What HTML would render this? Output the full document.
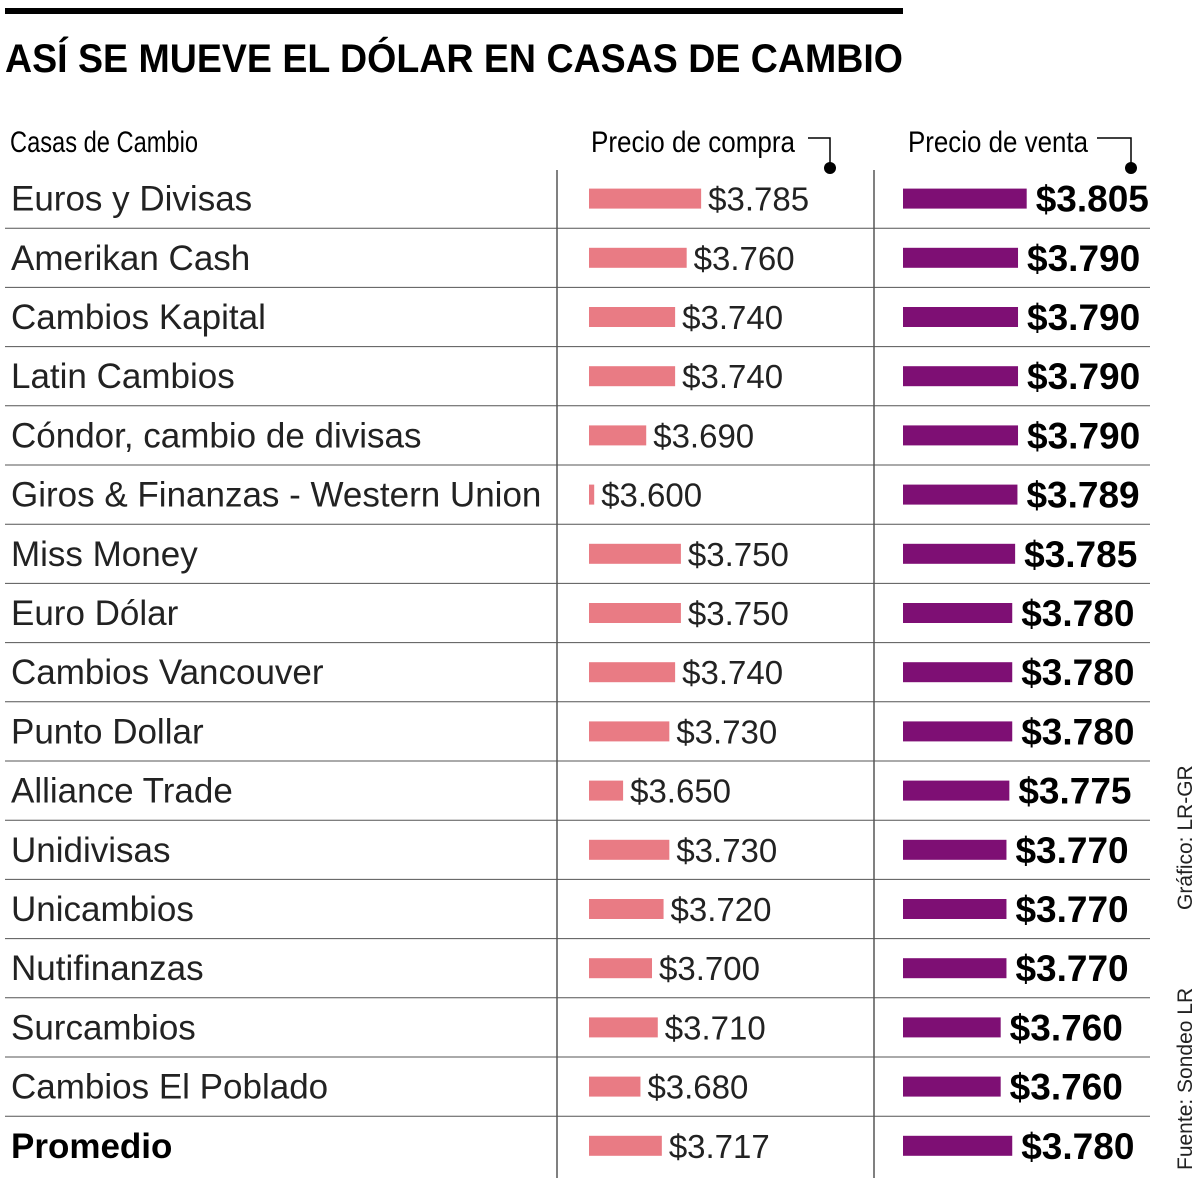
<!DOCTYPE html>
<html><head><meta charset="utf-8"><style>
body{margin:0;background:#fff}
svg{display:block}
text{font-family:"Liberation Sans",sans-serif}
</style></head><body>
<svg id="chart" width="1200" height="1178" viewBox="0 0 1200 1178">
<rect x="5" y="8" width="898" height="6" fill="#000"/>
<text x="5" y="72" font-size="40" font-weight="bold" textLength="898" lengthAdjust="spacingAndGlyphs">ASÍ SE MUEVE EL DÓLAR EN CASAS DE CAMBIO</text>
<text x="10" y="152" font-size="30" textLength="188" lengthAdjust="spacingAndGlyphs">Casas de Cambio</text>
<text x="591" y="152" font-size="30" textLength="204" lengthAdjust="spacingAndGlyphs">Precio de compra</text>
<text x="908" y="152" font-size="30" textLength="180" lengthAdjust="spacingAndGlyphs">Precio de venta</text>
<path d="M808 138H830V168" fill="none" stroke="#000" stroke-width="1.5"/>
<circle cx="830" cy="168" r="6" fill="#000"/>
<path d="M1097 138H1131V168" fill="none" stroke="#000" stroke-width="1.5"/>
<circle cx="1131" cy="168" r="6" fill="#000"/>
<line x1="557" y1="170" x2="557" y2="1178" stroke="#000" stroke-width="1"/>
<line x1="874" y1="170" x2="874" y2="1178" stroke="#000" stroke-width="1"/>
<g id="rows"></g>
<text transform="translate(1192,1170) rotate(-90)" font-size="21" fill="#222">Fuente: Sondeo LR</text>
<text transform="translate(1192,910) rotate(-90)" font-size="21" fill="#222">Gráfico: LR-GR</text>
</svg>
<script>
const categories=["Euros y Divisas","Amerikan Cash","Cambios Kapital","Latin Cambios","Cóndor, cambio de divisas","Giros & Finanzas - Western Union","Miss Money","Euro Dólar","Cambios Vancouver","Punto Dollar","Alliance Trade","Unidivisas","Unicambios","Nutifinanzas","Surcambios","Cambios El Poblado","Promedio"];
const compra=[3785,3760,3740,3740,3690,3600,3750,3750,3740,3730,3650,3730,3720,3700,3710,3680,3717];
const venta=[3805,3790,3790,3790,3790,3789,3785,3780,3780,3780,3775,3770,3770,3770,3760,3760,3780];
const NS="http://www.w3.org/2000/svg";
const g=document.getElementById('rows');
const base=3591,k=0.578;
function w(v){return Math.max(3,(v-base)*k);}
function fmt(v){return "$"+String(v).replace(/(\d)(\d{3})$/,"$1.$2");}
function mk(tag,attrs){const e=document.createElementNS(NS,tag);for(const a in attrs)e.setAttribute(a,attrs[a]);g.appendChild(e);return e;}
categories.forEach((c,i)=>{
  const top=169+59.2*i,cy=top+29.6;
  if(i<categories.length-1){
    const l=mk('line',{x1:5,x2:1150,y1:top+59.2,y2:top+59.2,stroke:'#555','stroke-width':1});
    
    
  }
  const last=i===categories.length-1;
  const t=mk('text',{x:11,y:cy+12,'font-size':35,'font-weight':last?'bold':'normal',fill:last?'#000':'#222'});
  t.textContent=c;
  
  
  const wc=w(compra[i]);
  const b1=mk('rect',{x:589,y:cy-10,width:wc,height:20,fill:'#e97b84'});
  
  
  const t1=mk('text',{x:589+wc+7,y:cy+12,'font-size':33,fill:'#222'});
  t1.textContent=fmt(compra[i]);
  
  
  const wv=w(venta[i]);
  const b2=mk('rect',{x:903,y:cy-10,width:wv,height:20,fill:'#7e0f74'});
  
  
  const t2=mk('text',{x:903+wv+9,y:cy+13,'font-size':37,'font-weight':'bold',fill:'#000'});
  t2.textContent=fmt(venta[i]);
  
  
});
</script>
</body></html>
